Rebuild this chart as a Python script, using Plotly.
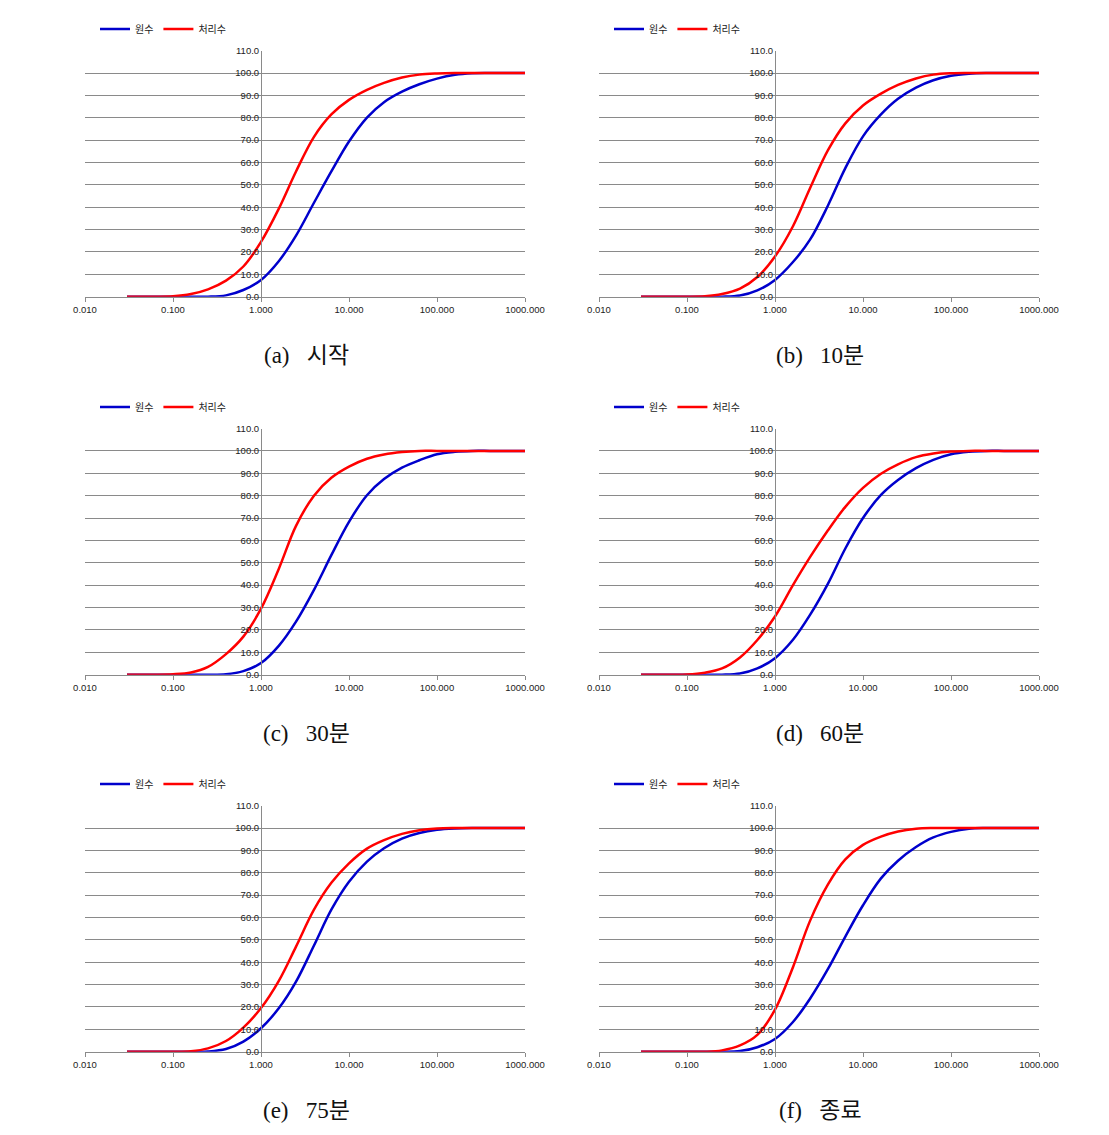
import plotly.graph_objects as go

# particle size (log axis) sample points
XS = [0.03, 0.04, 0.063, 0.1, 0.16, 0.25, 0.4, 0.63, 1, 1.6, 2.5, 4, 6.3, 10, 16, 25, 40, 63, 100, 160, 250, 400, 630, 1000]

# 원수 (raw water) cumulative %
raw_a = [0, 0, 0, 0, 0, 0, 0.6, 3, 7.5, 16, 27.3, 42, 56, 69.4, 80.1, 87, 91.7, 95, 97.5, 99.2, 99.9, 100, 100, 100]
raw_b = [0, 0, 0, 0, 0, 0, 0.5, 2.8, 7.5, 15.5, 25.5, 40.8, 57.5, 71.7, 81.5, 88.5, 93.5, 96.8, 98.8, 99.7, 100, 100, 100, 100]
raw_c = [0, 0, 0, 0, 0, 0, 0.2, 1.6, 5.2, 13, 23.7, 37.9, 53.4, 68.3, 80.2, 87.4, 92.5, 95.8, 98.5, 99.6, 100, 100, 100, 100]
raw_d = [0, 0, 0, 0, 0, 0, 0.5, 2.8, 7.4, 15.6, 26.7, 40.7, 56.4, 70, 80.3, 87, 92.3, 96, 98.5, 99.6, 100, 100, 100, 100]
raw_e = [0, 0, 0, 0, 0, 0.1, 1.2, 4.5, 10.5, 19.5, 31.3, 47.5, 63.5, 76, 85, 91, 95.3, 97.8, 99.2, 99.8, 100, 100, 100, 100]
raw_f = [0, 0, 0, 0, 0, 0, 0.3, 2, 5.7, 13.3, 23.7, 37, 51.5, 65.5, 77.5, 85.4, 91.5, 95.8, 98.3, 99.7, 100, 100, 100, 100]

# 처리수 (treated water) cumulative %
trt_a = [0, 0, 0, 0.2, 1.2, 3.3, 7.2, 13.5, 24.5, 39.5, 56, 71.5, 81.5, 88, 92.5, 95.6, 98, 99.3, 99.8, 100, 100, 100, 100, 100]
trt_b = [0, 0, 0, 0, 0.2, 1.2, 3.6, 8.8, 18, 31.5, 48.5, 65.5, 77.5, 85.5, 90.8, 94.7, 97.6, 99.3, 99.9, 100, 100, 100, 100, 100]
trt_c = [0, 0, 0, 0.2, 1.0, 3.5, 9.2, 17, 29.5, 47.5, 66.5, 80, 88, 93, 96.5, 98.4, 99.5, 100, 100, 100, 100, 100, 100, 100]
trt_d = [0, 0, 0, 0.1, 0.9, 2.8, 7.7, 15.5, 26, 40, 52.5, 64.5, 75, 83.5, 89.8, 94, 97.2, 98.8, 99.7, 100, 100, 100, 100, 100]
trt_e = [0, 0, 0, 0, 0.2, 1.5, 4.8, 10.8, 19.5, 31.8, 47, 63.5, 75.5, 84.2, 90.8, 94.6, 97.4, 99, 99.8, 100, 100, 100, 100, 100]
trt_f = [0, 0, 0, 0, 0, 0.6, 2.8, 7.5, 18.8, 37.8, 58.5, 74.8, 86, 92.5, 96.2, 98.5, 99.7, 100, 100, 100, 100, 100, 100, 100]

RAW = [raw_a, raw_b, raw_c, raw_d, raw_e, raw_f]
TRT = [trt_a, trt_b, trt_c, trt_d, trt_e, trt_f]
CAPTIONS = ["(a)   시작", "(b)   10분", "(c)   30분", "(d)   60분", "(e)   75분", "(f)   종료"]
SERIES = ["원수", "처리수"]
X_TICKVALS = [0.01, 0.1, 1, 10, 100, 1000]
X_TICKTEXT = ["0.010", "0.100", "1.000", "10.000", "100.000", "1000.000"]
Y_TICKVALS = list(range(0, 111, 10))

# page is rendered with an 8px body margin; work in page pixels and shift
OFF = 8
W, H = 1109 - OFF, 1135 - OFF
COL_X = [(85, 525), (599, 1039)]
ROW_Y = [(50.7, 296.7), (428.5, 674.7), (805.7, 1051.7)]
LEGEND_Y = [29, 407, 784]
CAPTION_Y = [355, 733, 1110]
CAPTION_X = [306, 820]


def fx(p):
    return (p - OFF) / W


def fy(p):
    return 1 - (p - OFF) / H


BLUE = "#0000CC"
RED = "#FF0000"
GRID = "#8a8a8a"
TICKFONT = dict(family="Liberation Sans, Arial, sans-serif", size=9.5, color="#222222")

fig = go.Figure()
layout = dict(
    width=W, height=H,
    margin=dict(l=0, r=0, t=0, b=0, autoexpand=False),
    paper_bgcolor="white", plot_bgcolor="white",
    showlegend=True,
)
annotations = []

for i in range(6):
    r, c = divmod(i, 2)
    x0, x1 = COL_X[c]
    ytop, ybot = ROW_Y[r]
    dom_x = [fx(x0), fx(x1)]
    dom_y = [fy(ybot), fy(ytop)]
    sfx = "" if i == 0 else str(i + 1)
    leg = "legend" + sfx
    xa = "x" + sfx
    ya = "y" + sfx

    for name, ys, col in [(SERIES[0], RAW[i], BLUE), (SERIES[1], TRT[i], RED)]:
        fig.add_trace(go.Scatter(
            x=XS, y=ys, name=name, mode="lines",
            line=dict(color=col, width=2.5, shape="spline", smoothing=1),
            xaxis=xa, yaxis=ya, legend=leg, hoverinfo="skip",
        ))

    layout["xaxis" + sfx] = dict(
        type="log", range=[-2, 3], domain=dom_x, anchor=ya, automargin=False,
        showgrid=False, zeroline=False,
        showline=True, linecolor=GRID, linewidth=1,
        ticks="outside", ticklen=4, tickcolor=GRID,
        tickvals=X_TICKVALS, ticktext=X_TICKTEXT, tickfont=TICKFONT,
    )
    layout["yaxis" + sfx] = dict(
        range=[0, 110], domain=dom_y, anchor="free", automargin=False,
        position=fx(x0 + 0.4 * (x1 - x0)),
        showgrid=True, gridcolor=GRID, gridwidth=1, zeroline=False,
        showline=True, linecolor=GRID, linewidth=1,
        ticks="", tickvals=Y_TICKVALS, tickformat=".1f", tickfont=TICKFONT,
    )
    layout[leg] = dict(
        orientation="h", x=fx(x0 + 10), xanchor="left",
        y=fy(LEGEND_Y[r]), yanchor="middle",
        font=dict(family="Noto Sans CJK KR, sans-serif", size=10, color="#222222"),
        bgcolor="rgba(0,0,0,0)", itemwidth=30, tracegroupgap=0,
    )
    annotations.append(dict(
        text=CAPTIONS[i], xref="paper", yref="paper",
        x=fx(CAPTION_X[c]), y=fy(CAPTION_Y[r]),
        xanchor="center", yanchor="middle", showarrow=False,
        font=dict(family="Liberation Serif, Noto Sans CJK KR, serif", size=23, color="#111111"),
    ))

layout["annotations"] = annotations
fig.update_layout(**layout)
fig.write_html("out.html")
